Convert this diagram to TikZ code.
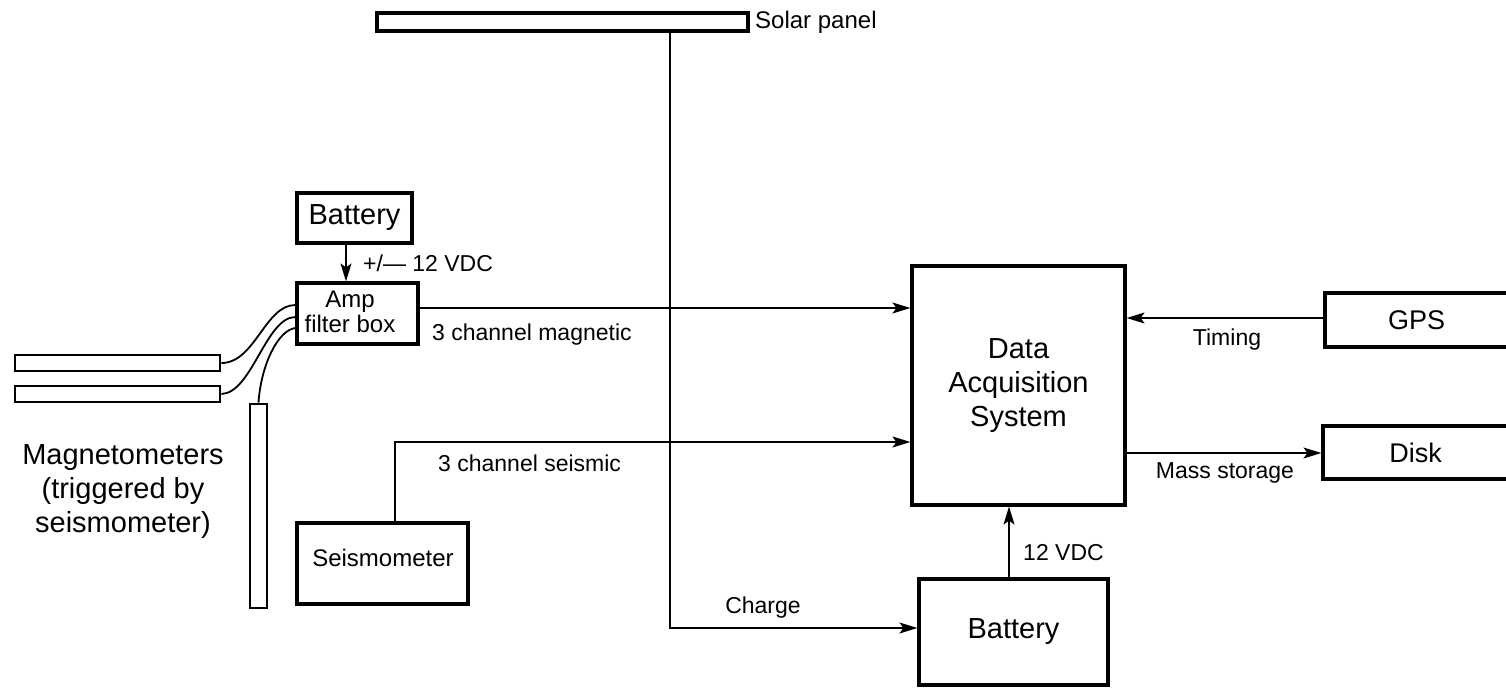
\documentclass[tikz,border=0pt]{standalone}
\usepackage{fontspec}
\setmainfont{Liberation Sans}
\usetikzlibrary{arrows.meta}
\begin{document}
\begin{tikzpicture}[x=1pt,y=-1pt,
  box/.style={draw, line width=3.2pt, inner sep=0pt, align=center},
  conn/.style={line width=1.3pt},
  arr/.style={conn, -{Stealth[length=18pt,width=11pt,inset=4pt]}},
  big/.style={font=\fontsize{29}{34}\selectfont},
  med/.style={font=\fontsize{27}{30}\selectfont},
  small/.style={font=\fontsize{23}{26}\selectfont},
  mid/.style={font=\fontsize{24}{25}\selectfont},
  lbl/.style={inner sep=0pt}]
\useasboundingbox (0,0) rectangle (1506,688);
\clip (0,0) rectangle (1506,688);

% boxes
\node[box, minimum width=371, minimum height=18] (solar) at (562.5,22) {};
\node[lbl, mid, anchor=west] (solarlbl) at (755,22) {Solar panel};

\node[box, big, minimum width=115, minimum height=50] (batt1) at (354.5,218) {Battery};
\node[box, minimum width=121, minimum height=61] (amp) at (357.5,313.5) {};
\node[lbl, mid, align=center] (amptxt) at (350,312) {Amp\\filter box};

\node[box, line width=2.8pt, minimum width=205, minimum height=16] (mag1) at (117.5,363) {};
\node[box, line width=2.8pt, minimum width=205, minimum height=16] (mag2) at (117.5,394) {};
\node[box, line width=2.8pt, minimum width=17, minimum height=204] (mag3) at (258.5,506) {};
\node[lbl, big, align=center] (magtxt) at (123,492) {Magnetometers\\(triggered by\\seismometer)};

\node[box, minimum width=171, minimum height=81] (seis) at (382.5,563.5) {};
\node[lbl, mid] (seistxt) at (383,558) {Seismometer};

\node[box, big, minimum width=213, minimum height=239] (das) at (1018.5,385.5) {Data\\Acquisition\\System};
\node[box, big, minimum width=189, minimum height=106] (batt2) at (1013.5,632) {Battery};
\node[box, med, minimum width=183, minimum height=54] (gps) at (1416.5,320) {GPS};
\node[box, med, minimum width=185, minimum height=53] (disk) at (1415.5,452.5) {Disk};

% helper coordinates
\coordinate (pbat) at (346,0);
\coordinate (ymag) at (0,308);
\coordinate (cseis) at (395,442);
\coordinate (cchg) at (670,628);
\coordinate (v12) at (1009,0);
\coordinate (ytim) at (0,318);
\coordinate (ymass) at (0,453);
\coordinate (a1) at (297,305);
\coordinate (a2) at (297,317);
\coordinate (a3) at (297,328);

% connectors
\draw[arr] (batt1.south -| pbat) -- (amp.north -| pbat);
\node[lbl, small, anchor=west] (vdc1) at (363,263) {+/— 12 VDC};

\draw[arr] (amp.east |- ymag) -- (das.west |- ymag);
\node[lbl, small, anchor=west] (maglbl) at (432,335) {3 channel magnetic};

\draw[arr] (seis.north -| cseis) |- (das.west |- cseis);
\node[lbl, small, anchor=west] (seislbl) at (438,463) {3 channel seismic};

\draw[arr] (solar.south -| cchg) |- (batt2.west |- cchg);
\node[lbl, small] (chglbl) at (763,608) {Charge};

\draw[arr] (batt2.north -| v12) -- (das.south -| v12);
\node[lbl, small, anchor=west] (vdc2) at (1023,553) {12 VDC};

\draw[arr] (gps.west |- ytim) -- (das.east |- ytim);
\node[lbl, small] (timlbl) at (1227,340) {Timing};

\draw[arr] (das.east |- ymass) -- (disk.west |- ymass);
\node[lbl, small] (masslbl) at (1225,473) {Mass storage};

% magnetometer cables
\draw[line width=1.8pt] (mag1.east) .. controls (255,363) and (265,305) .. (amp.west |- a1);
\draw[line width=1.8pt] (mag2.east) .. controls (252,393) and (266,317) .. (amp.west |- a2);
\draw[line width=1.8pt] (mag3.north) .. controls (261,365) and (278,330) .. (amp.west |- a3);
\end{tikzpicture}
\end{document}
